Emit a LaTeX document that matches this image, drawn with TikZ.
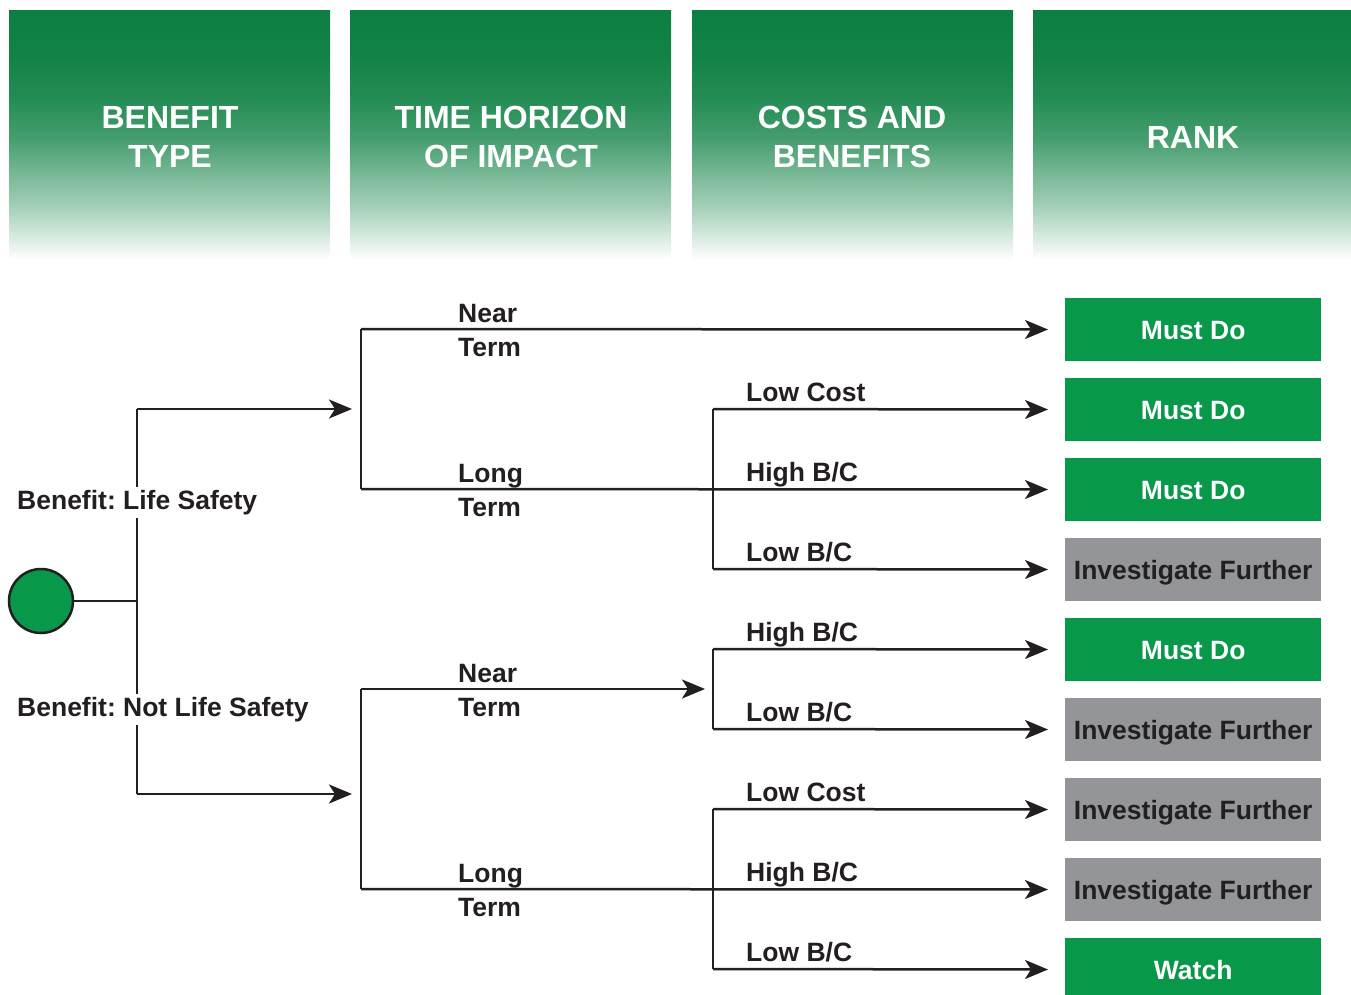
\documentclass[tikz,border=0pt]{standalone}
\usepackage{fontspec}
\setmainfont{Liberation Sans}
\frenchspacing
\usetikzlibrary{arrows.meta}
\definecolor{hdrgreen}{HTML}{0B7F41}
\definecolor{boxgreen}{HTML}{07984A}
\definecolor{boxgray}{HTML}{939598}
\definecolor{ink}{HTML}{231F20}
\pgfdeclareverticalshading{hdrshade}{100bp}{%
  color(0bp)=(white);
  color(25bp)=(white);
  color(26.5bp)=(white);
  color(32bp)=(hdrgreen!20);
  color(37bp)=(hdrgreen!38);
  color(43bp)=(hdrgreen!55);
  color(50bp)=(hdrgreen!76);
  color(58bp)=(hdrgreen!90);
  color(66bp)=(hdrgreen!97);
  color(75bp)=(hdrgreen);
  color(100bp)=(hdrgreen)}
\tikzset{
  hdr/.style={shading=hdrshade, inner sep=0pt, minimum width=321pt, minimum height=257pt,
    anchor=north west},
  hdrtext/.style={text=white, align=center, font=\fontsize{32}{39}\selectfont\bfseries},
  result/.style={inner sep=0pt, minimum width=256pt, minimum height=63pt, anchor=west,
    text height=19pt, text depth=0pt, text=white,
    font=\fontsize{26.5}{30}\selectfont\bfseries},
  mustdo/.style={result, fill=boxgreen},
  invest/.style={result, fill=boxgray, text=ink},
  lbl/.style={inner sep=0pt, anchor=base west, text=ink,
    font=\fontsize{26.5}{30}\selectfont\bfseries},
  wire/.style={draw=ink, line width=2.5pt},
  arr/.style={wire, -{Stealth[length=23pt,width=19pt,inset=6pt]}},
}
\begin{document}
\begin{tikzpicture}[x=1pt,y=-1pt]
\useasboundingbox (0,0) rectangle (1351,995);
\begin{scope}
\clip (0,0) rectangle (1351,995);
% headers
\node[hdr] (h1) at (9,10) {};
\node[hdr] (h2) at (350,10) {};
\node[hdr] (h3) at (692,10) {};
\node[hdr, minimum width=318pt] (h4) at (1033,10) {};
\node[hdrtext] (t1) at (170,137) {BENEFIT\\TYPE};
\node[hdrtext] (t2) at (511,137) {TIME HORIZON\\OF IMPACT};
\node[hdrtext] (t3) at (852,137) {COSTS AND\\BENEFITS};
\node[hdrtext] (t4) at (1193,137) {RANK};

% results
\node[mustdo] (r1) at (1065,329.5) {Must Do};
\node[mustdo] (r2) at (1065,409.5) {Must Do};
\node[mustdo] (r3) at (1065,489.5) {Must Do};
\node[invest] (r4) at (1065,569.5) {Investigate Further};
\node[mustdo] (r5) at (1065,649.5) {Must Do};
\node[invest] (r6) at (1065,729.5) {Investigate Further};
\node[invest] (r7) at (1065,809.5) {Investigate Further};
\node[invest] (r8) at (1065,889.5) {Investigate Further};
\node[mustdo] (r9) at (1065,969.5) {Watch};

% root
\node[circle, fill=boxgreen, draw=ink, line width=2.5pt, minimum size=64pt, inner sep=0pt] (root) at (41,601) {};

% junction coordinates
\coordinate (j0) at (137,601);
\coordinate (ja) at (137,409);
\coordinate (jb) at (137,794);
\coordinate (ea) at (352,409);
\coordinate (eb) at (352,794);
\coordinate (s1) at (361,329);
\coordinate (s2) at (361,489);
\coordinate (s3) at (361,689);
\coordinate (s4) at (361,889);
\coordinate (e3) at (705,689);
\coordinate (c1) at (713,409);
\coordinate (c2) at (713,569);
\coordinate (c3) at (713,649);
\coordinate (c4) at (713,729);
\coordinate (c5) at (713,809);
\coordinate (c6) at (713,969);

% level 1
\draw[wire] (root.east) -- (j0);
\draw[wire] (ja) -- (jb);
\draw[arr] (ja) -- (ea);
\draw[arr] (jb) -- (eb);
\node[lbl, fill=white, inner ysep=3pt, inner xsep=0pt] (bl1) at (17,509) {Benefit: Life Safety};
\node[lbl, fill=white, inner ysep=3pt, inner xsep=0pt] (bl2) at (17,716) {Benefit: Not Life Safety};

% level 2 upper
\draw[wire] (s1) -- (s2);
\draw[arr] (s1) -- ([xshift=-17pt]r1.west);
\draw[arr] (s2) -- ([xshift=-17pt]r3.west);
\node[lbl] (n1) at (458,322) {Near};
\node[lbl] (n1b) at (458,356) {Term};
\node[lbl] (l1) at (458,482) {Long};
\node[lbl] (l1b) at (458,516) {Term};

% level 3 upper
\draw[wire] (c1) -- (c2);
\draw[arr] (c1) -- ([xshift=-17pt]r2.west);
\draw[arr] (c2) -- ([xshift=-17pt]r4.west);
\node[lbl] (k1) at (746,401) {Low Cost};
\node[lbl] (k2) at (746,481) {High B/C};
\node[lbl] (k3) at (746,561) {Low B/C};

% level 2 lower
\draw[wire] (s3) -- (s4);
\draw[arr] (s3) -- (e3);
\draw[arr] (s4) -- ([xshift=-17pt]r8.west);
\node[lbl] (n2) at (458,682) {Near};
\node[lbl] (n2b) at (458,716) {Term};
\node[lbl] (l2) at (458,882) {Long};
\node[lbl] (l2b) at (458,916) {Term};

% level 3 lower
\draw[wire] (c3) -- (c4);
\draw[arr] (c3) -- ([xshift=-17pt]r5.west);
\draw[arr] (c4) -- ([xshift=-17pt]r6.west);
\node[lbl] (k4) at (746,641) {High B/C};
\node[lbl] (k5) at (746,721) {Low B/C};

\draw[wire] (c5) -- (c6);
\draw[arr] (c5) -- ([xshift=-17pt]r7.west);
\draw[arr] (c6) -- ([xshift=-17pt]r9.west);
\node[lbl] (k6) at (746,801) {Low Cost};
\node[lbl] (k7) at (746,881) {High B/C};
\node[lbl] (k8) at (746,961) {Low B/C};
\end{scope}
\end{tikzpicture}
\end{document}
